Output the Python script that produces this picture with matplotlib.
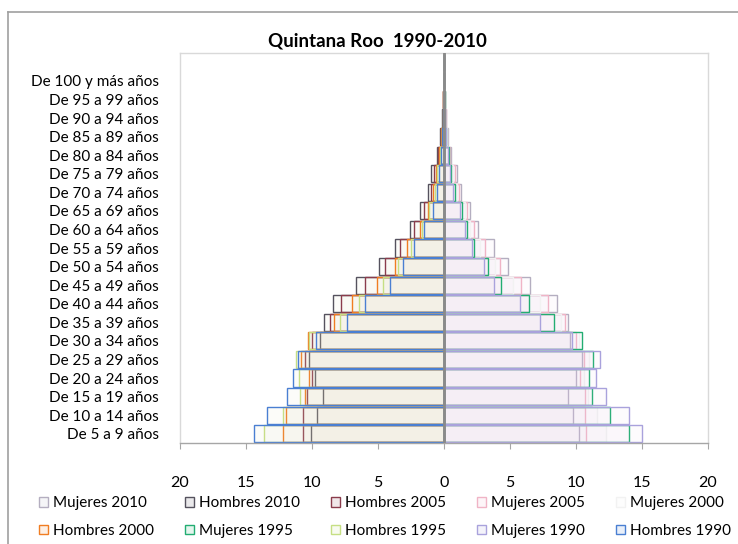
import matplotlib
matplotlib.use("Agg")
import matplotlib.pyplot as plt
import numpy as np
from matplotlib.colors import to_rgba
from matplotlib.patches import Patch
from matplotlib.lines import Line2D
from matplotlib.ticker import FuncFormatter

plt.rcParams['font.family'] = ['Lato', 'DejaVu Sans']

categories = ["De 5 a 9 años", "De 10 a 14 años", "De 15 a 19 años", "De 20 a 24 años",
              "De 25 a 29 años", "De 30 a 34 años", "De 35 a 39 años", "De 40 a 44 años",
              "De 45 a 49 años", "De 50 a 54 años", "De 55 a 59 años", "De 60 a 64 años",
              "De 65 a 69 años", "De 70 a 74 años", "De 75 a 79 años", "De 80 a 84 años",
              "De 85 a 89 años", "De 90 a 94 años", "De 95 a 99 años", "De 100 y más años", ""]

hombres_2010 = [10.1, 9.6, 9.2, 9.75, 10.25, 9.4, 9.1, 8.4, 6.7, 4.95, 3.75, 2.6, 1.8, 1.2, 0.95, 0.5, 0.28, 0.13, 0.05, 0.03, 0]
hombres_2005 = [10.7, 10.7, 10.4, 10.0, 10.5, 10.0, 8.6, 7.8, 6.0, 4.5, 3.3, 2.3, 1.5, 1.0, 0.75, 0.42, 0.24, 0.11, 0.04, 0.02, 0]
hombres_2000 = [12.2, 12.0, 10.55, 10.25, 10.8, 10.3, 8.3, 7.0, 5.1, 3.75, 2.8, 1.85, 1.25, 0.8, 0.6, 0.35, 0.2, 0.1, 0.04, 0.02, 0]
hombres_1995 = [13.6, 12.2, 10.9, 11.0, 11.25, 10.2, 7.9, 6.45, 4.6, 3.45, 2.5, 1.7, 1.1, 0.7, 0.5, 0.3, 0.17, 0.09, 0.03, 0.02, 0]
hombres_1990 = [14.4, 13.4, 11.9, 11.45, 11.05, 9.7, 7.35, 5.95, 4.1, 3.1, 2.25, 1.55, 0.85, 0.5, 0.4, 0.25, 0.15, 0.08, 0.03, 0.02, 0]

mujeres_2010 = [10.2, 9.8, 9.4, 10.0, 10.45, 9.55, 9.4, 8.55, 6.55, 4.85, 3.8, 2.6, 2.0, 1.25, 0.95, 0.55, 0.3, 0.15, 0.06, 0.03, 0]
mujeres_2005 = [10.75, 10.7, 10.7, 10.3, 10.6, 10.0, 9.2, 7.85, 5.85, 4.25, 3.1, 2.25, 1.75, 1.1, 0.8, 0.45, 0.25, 0.13, 0.05, 0.03, 0]
mujeres_2000 = [12.3, 11.6, 10.9, 10.6, 11.0, 10.2, 8.9, 7.3, 5.2, 3.9, 2.7, 2.0, 1.6, 1.0, 0.7, 0.4, 0.22, 0.11, 0.04, 0.02, 0]
mujeres_1995 = [14.05, 12.55, 11.2, 10.95, 11.3, 10.45, 8.3, 6.45, 4.3, 3.35, 2.3, 1.75, 1.35, 0.8, 0.55, 0.35, 0.18, 0.1, 0.04, 0.02, 0]
mujeres_1990 = [15.0, 14.0, 12.3, 11.55, 11.8, 9.7, 7.3, 5.75, 3.8, 3.0, 2.1, 1.6, 1.2, 0.7, 0.45, 0.3, 0.15, 0.08, 0.03, 0.02, 0]

x_ticks = [-20, -15, -10, -5, 0, 5, 10, 15, 20]

# (label, values, side, edge colour)
series = [
    ("Mujeres 2010", mujeres_2010, 1, "#b4aec0"),
    ("Hombres 2010", hombres_2010, -1, "#55525e"),
    ("Hombres 2005", hombres_2005, -1, "#8a3c4c"),
    ("Mujeres 2005", mujeres_2005, 1, "#f0b4c6"),
    ("Mujeres 2000", mujeres_2000, 1, "#f2f2f2"),
    ("Hombres 2000", hombres_2000, -1, "#f07d22"),
    ("Mujeres 1995", mujeres_1995, 1, "#22ad72"),
    ("Hombres 1995", hombres_1995, -1, "#c6df84"),
    ("Mujeres 1990", mujeres_1990, 1, "#a9a2dc"),
    ("Hombres 1990", hombres_1990, -1, "#4a7fd2"),
]

fig = plt.figure(figsize=(7.38, 5.44), dpi=100)
ax = fig.add_axes([180/738, 1-443/544, (708-180)/738, (443-53)/544])

y = np.arange(len(categories))
face_h = "#dcd3b0"
face_m = "#e2cce6"
for label, vals, side, ec in series:
    fc = to_rgba(face_h if side < 0 else face_m, 0.065)
    ax.barh(y, side*np.array(vals), height=0.93, facecolor=fc, edgecolor=ec,
            linewidth=1.0, label=label)

ax.axvline(0, color="#8a8a8a", linewidth=2.0, zorder=5)

ax.set_xlim(-20, 20)
ax.set_ylim(-0.5, len(categories)-0.5)
ax.set_xticks(x_ticks)
ax.xaxis.set_major_formatter(FuncFormatter(lambda v, p: f"{abs(int(v))}"))
ax.set_yticks(y)
ax.set_yticklabels(categories)
ax.tick_params(axis='y', length=0, pad=15, labelsize=11)
ax.tick_params(axis='x', length=4, color="#a6a6a6", pad=20, labelsize=11.5)
for s in ['left', 'top', 'right']:
    ax.spines[s].set_color("#d9d9d9")
    ax.spines[s].set_linewidth(1.0)
ax.spines['bottom'].set_color("#a6a6a6")
ax.spines['bottom'].set_linewidth(1.0)

fig.text(377/738, 1-41/544, "Quintana Roo  1990-2010", ha='center', va='center',
         fontsize=13.5, fontweight='bold')

# outer chart border
fig.add_artist(Line2D([8/738, 1], [1-12/544, 1-12/544], transform=fig.transFigure, color="#a0a0a0", lw=1.2))
fig.add_artist(Line2D([8/738, 8/738], [0, 1-12/544], transform=fig.transFigure, color="#a0a0a0", lw=1.2))

# legend: row-major order in a 5-column grid
handles = [Patch(facecolor=to_rgba(ec, 0.12), edgecolor=ec, linewidth=1.0, label=lab)
           for lab, _, _, ec in series]
order = []
for c in range(5):
    for r in range(2):
        order.append(r*5 + c)
leg = fig.legend([handles[i] for i in order], [series[i][0] for i in order],
                 ncol=5, loc='center', bbox_to_anchor=(385/738, 1-517/544),
                 frameon=False, fontsize=11, handlelength=0.6, handleheight=0.6,
                 handletextpad=0.3, columnspacing=2.05, labelspacing=0.9)

fig.savefig("out.png", dpi=100)
